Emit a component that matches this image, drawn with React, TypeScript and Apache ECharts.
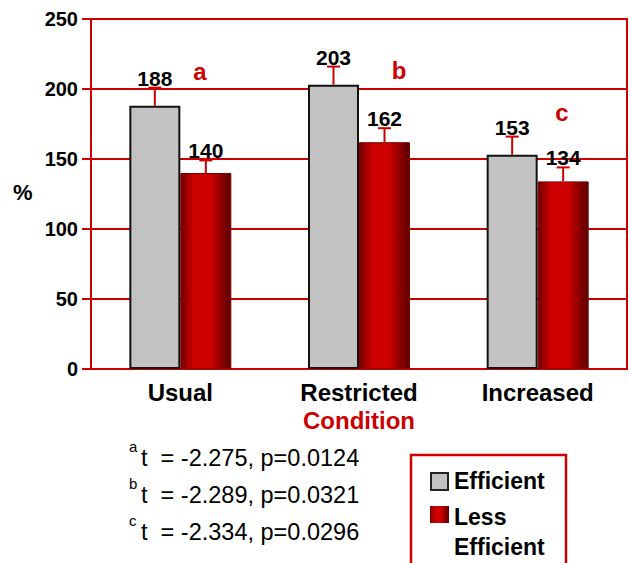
import { useEffect, useRef } from "react";
import * as echarts from "echarts";

const categories = ["Usual", "Restricted", "Increased"];
const efficient = [188, 203, 153];
const lessEfficient = [140, 162, 134];
const efficientErr = [13, 13, 13];
const lessEfficientErr = [9, 10, 10];
const groupLetters = ["a", "b", "c"];
const tStats = ["-2.275", "-2.289", "-2.334"];
const pValues = ["0.0124", "0.0321", "0.0296"];

const FONT = "'Liberation Sans', Arial, Helvetica, sans-serif";
const RED = "#cc0000";
const BAR_W = 51;

export default function App() {
  const ref = useRef<HTMLDivElement>(null);

  useEffect(() => {
    if (!ref.current) return;
    const chart = echarts.init(ref.current, null, { renderer: "svg" });

    const redFill = new echarts.graphic.LinearGradient(0, 0, 1, 0, [
      { offset: 0, color: "#730000" },
      { offset: 0.25, color: "#cc0000" },
      { offset: 0.6, color: "#cc0000" },
      { offset: 1, color: "#580000" },
    ]);

    // error whiskers (upper only) with the value printed above each one
    const errData: number[][] = [];
    efficient.forEach((v, i) => errData.push([i, v, efficientErr[i], -1]));
    lessEfficient.forEach((v, i) => errData.push([i, v, lessEfficientErr[i], 1]));

    const renderErr = (_params: any, api: any) => {
      const i = api.value(0);
      const v = api.value(1);
      const e = api.value(2);
      const side = api.value(3);
      const base = api.coord([i, v]);
      const top = api.coord([i, v + e]);
      const x = base[0] + (side * BAR_W) / 2;
      return {
        type: "group",
        children: [
          {
            type: "line",
            shape: { x1: x, y1: base[1], x2: x, y2: top[1] },
            style: { stroke: RED, lineWidth: 2 },
          },
          {
            type: "line",
            shape: { x1: x - 6.5, y1: top[1], x2: x + 6.5, y2: top[1] },
            style: { stroke: RED, lineWidth: 2 },
          },
          {
            type: "text",
            x,
            y: top[1] + 1,
            style: {
              text: String(v),
              align: "center",
              verticalAlign: "bottom",
              fontFamily: FONT,
              fontWeight: "bold",
              fontSize: 21,
              fill: "#000",
            },
          },
        ],
      };
    };

    const statTexts: any[] = [];
    tStats.forEach((t, k) => {
      const top = 446 + k * 37;
      statTexts.push({
        type: "text",
        left: 129,
        top: top - 7,
        style: { text: groupLetters[k], fontFamily: FONT, fontSize: 15, fill: "#000" },
      });
      statTexts.push({
        type: "text",
        left: 141,
        top,
        style: {
          text: `t  = ${t}, p=${pValues[k]}`,
          fontFamily: FONT,
          fontSize: 23.5,
          fill: "#000",
        },
      });
    });

    chart.setOption({
      animation: false,
      grid: {
        left: 91,
        right: 3,
        top: 19,
        bottom: 194,
        show: true,
        borderColor: RED,
        borderWidth: 2,
        backgroundColor: "transparent",
      },
      xAxis: {
        type: "category",
        data: categories,
        axisLine: { lineStyle: { color: RED, width: 2 } },
        axisTick: { show: false },
        axisLabel: {
          margin: 11,
          fontFamily: FONT,
          fontWeight: "bold",
          fontSize: 24,
          color: "#000",
        },
        name: "Condition",
        nameLocation: "middle",
        nameGap: 38,
        nameTextStyle: {
          fontFamily: FONT,
          fontWeight: "bold",
          fontSize: 24,
          color: RED,
        },
      },
      yAxis: {
        type: "value",
        min: 0,
        max: 250,
        interval: 50,
        axisLine: { show: true, lineStyle: { color: RED, width: 2 } },
        axisTick: { show: true, length: 9, lineStyle: { color: RED, width: 2 } },
        splitLine: { lineStyle: { color: RED, width: 2 } },
        axisLabel: {
          margin: 13,
          fontFamily: FONT,
          fontWeight: "bold",
          fontSize: 20,
          color: "#000",
        },
      },
      series: [
        {
          name: "Efficient",
          type: "bar",
          data: efficient,
          barWidth: BAR_W,
          barGap: "0%",
          itemStyle: { color: "#c2c2c2", borderColor: "#111", borderWidth: 2 },
        },
        {
          name: "Less Efficient",
          type: "bar",
          data: lessEfficient,
          barWidth: BAR_W,
          barGap: "0%",
          itemStyle: { color: redFill, borderColor: "#7a0000", borderWidth: 1 },
        },
        {
          type: "custom",
          renderItem: renderErr,
          data: errData,
          z: 5,
        },
      ],
      graphic: [
        {
          type: "text",
          left: 13,
          top: 181,
          style: { text: "%", fontFamily: FONT, fontWeight: "bold", fontSize: 22, fill: "#000" },
        },
        {
          type: "text",
          x: 200,
          y: 71,
          style: {
            text: groupLetters[0],
            align: "center",
            verticalAlign: "middle",
            fontFamily: FONT,
            fontWeight: "bold",
            fontSize: 24,
            fill: RED,
          },
        },
        {
          type: "text",
          x: 399,
          y: 70,
          style: {
            text: groupLetters[1],
            align: "center",
            verticalAlign: "middle",
            fontFamily: FONT,
            fontWeight: "bold",
            fontSize: 24,
            fill: RED,
          },
        },
        {
          type: "text",
          x: 562,
          y: 112,
          style: {
            text: groupLetters[2],
            align: "center",
            verticalAlign: "middle",
            fontFamily: FONT,
            fontWeight: "bold",
            fontSize: 24,
            fill: RED,
          },
        },
        ...statTexts,
        // legend box
        {
          type: "rect",
          shape: { x: 411, y: 455, width: 155, height: 120 },
          style: { fill: "transparent", stroke: RED, lineWidth: 2.5 },
        },
        {
          type: "rect",
          shape: { x: 431, y: 473, width: 17, height: 17 },
          style: { fill: "#c2c2c2", stroke: "#222", lineWidth: 2 },
        },
        {
          type: "text",
          left: 454,
          top: 469,
          style: { text: "Efficient", fontFamily: FONT, fontWeight: "bold", fontSize: 23, fill: "#000" },
        },
        {
          type: "rect",
          shape: { x: 430, y: 506, width: 19, height: 17 },
          style: { fill: redFill },
        },
        {
          type: "text",
          left: 454,
          top: 502,
          style: {
            text: "Less\nEfficient",
            lineHeight: 30,
            fontFamily: FONT,
            fontWeight: "bold",
            fontSize: 23,
            fill: "#000",
          },
        },
      ],
    });

    return () => chart.dispose();
  }, []);

  return (
    <div
      ref={ref}
      style={{ position: "absolute", left: 0, top: 0, width: 630, height: 563, background: "#fff" }}
    />
  );
}
